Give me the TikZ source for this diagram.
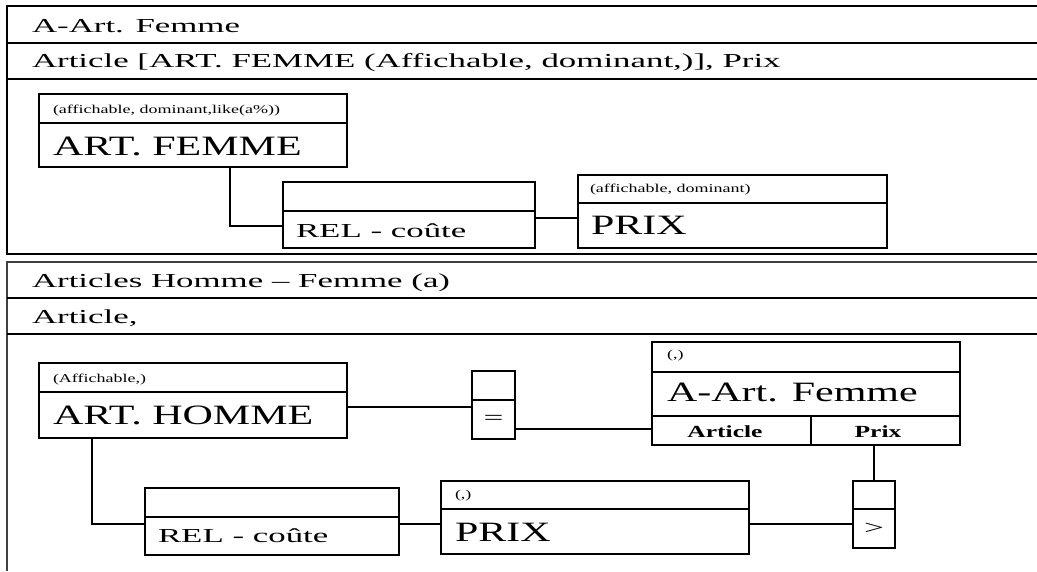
\documentclass[tikz,border=0pt]{standalone}
\usepackage{fontspec}
\setmainfont{Liberation Serif}
\newfontfamily\hdfont[FakeStretch=1.76]{Liberation Serif}
\newfontfamily\bgfont[FakeStretch=1.5]{Liberation Serif}
\begin{document}
\begin{tikzpicture}[x=1pt,y=-1pt,
  frame/.style={line width=1.3pt},
  box/.style={draw, rectangle, anchor=north west, inner sep=0pt, outer sep=0pt, line width=1.3pt},
  rule/.style={line width=1.2pt},
  link/.style={line width=1.2pt},
  lbl/.style={anchor=base west, inner sep=0pt, outer sep=0pt},
  hdtxt/.style={font=\hdfont\fontsize{19.8}{22}\selectfont},
  bgtxt/.style={font=\bgfont\fontsize{28}{30}\selectfont},
  smtxt/.style={font=\bgfont\fontsize{12}{14}\selectfont},
  celltxt/.style={font=\bgfont\bfseries\fontsize{17}{19}\selectfont, anchor=base, inner sep=0pt},
  optxt/.style={font=\hdfont\fontsize{20}{22}\selectfont, anchor=center, inner sep=0pt}
]
\useasboundingbox[fill=white] (0,0) rectangle (1037,571);

% ---------- upper panel ----------
\draw[frame] (1037,6) -- (7,6) -- (7,254) -- (1037,254);
\draw[frame] (7,43) -- (1037,43);
\draw[frame] (7,79) -- (1037,79);
\node[lbl, hdtxt] (t1) at (32,32) {A-Art. Femme};
\node[lbl, hdtxt] (t2) at (32,67) {Article [ART. FEMME (Affichable, dominant,)], Prix};

\node[box, minimum width=308pt, minimum height=73pt] (afemme) at (39,94) {};
\draw[rule] ([yshift=-29pt]afemme.north west) -- ([yshift=-29pt]afemme.north east);
\node[lbl, smtxt] (afemmeq) at (53,113) {(affichable, dominant,like(a\%))};
\node[lbl, bgtxt] (afemmen) at (53,155) {ART. FEMME};

\node[box, minimum width=252pt, minimum height=66pt] (rel1) at (283,182) {};
\draw[rule] ([yshift=-29pt]rel1.north west) -- ([yshift=-29pt]rel1.north east);
\node[lbl, hdtxt] (rel1n) at (296,237) {REL - coûte};

\node[box, minimum width=309pt, minimum height=73pt] (prix1) at (578,175) {};
\draw[rule] ([yshift=-28pt]prix1.north west) -- ([yshift=-28pt]prix1.north east);
\node[lbl, smtxt] (prix1q) at (590,192) {(affichable, dominant)};
\node[lbl, bgtxt] (prix1n) at (591,234) {PRIX};

\draw[link] ([xshift=191pt]afemme.south west) |- ([yshift=-44pt]rel1.north west);
\draw[link] ([yshift=-36pt]rel1.north east) -- ([yshift=-43pt]prix1.north west);

% ---------- lower panel ----------
\draw[frame, black!75] (1037,262) -- (7,262) -- (7,571);
\draw[frame] (7,298) -- (1037,298);
\draw[frame] (7,334) -- (1037,334);
\node[lbl, hdtxt] (t3) at (32,287) {Articles Homme \textendash{} Femme (a)};
\node[lbl, hdtxt] (t4) at (32,323) {Article,};

\node[box, minimum width=308pt, minimum height=75pt] (ahomme) at (39,363) {};
\draw[rule] ([yshift=-29pt]ahomme.north west) -- ([yshift=-29pt]ahomme.north east);
\node[lbl, smtxt] (ahommeq) at (53,382) {(Affichable,)};
\node[lbl, bgtxt] (ahommen) at (53,424) {ART. HOMME};

\node[box, minimum width=43pt, minimum height=68pt] (eq) at (472,371) {};
\draw[rule] ([yshift=-29pt]eq.north west) -- ([yshift=-29pt]eq.north east);
\node[optxt] (eqs) at (493.5,420) {=};

\node[box, minimum width=308pt, minimum height=103pt] (aaf) at (652,342) {};
\draw[rule] ([yshift=-30pt]aaf.north west) -- ([yshift=-30pt]aaf.north east);
\draw[rule] ([yshift=-74pt]aaf.north west) -- ([yshift=-74pt]aaf.north east);
\draw[rule] ([xshift=159pt,yshift=-74pt]aaf.north west) -- ([xshift=159pt]aaf.south west);
\node[lbl, smtxt] (aafq) at (667,358) {(,)};
\node[lbl, bgtxt] (aafn) at (667,401) {A-Art. Femme};
\node[celltxt] (aafa) at (725,437) {Article};
\node[celltxt] (aafp) at (878,437) {Prix};

\node[box, minimum width=254pt, minimum height=67pt] (rel2) at (145,488) {};
\draw[rule] ([yshift=-29pt]rel2.north west) -- ([yshift=-29pt]rel2.north east);
\node[lbl, hdtxt] (rel2n) at (158,542) {REL - coûte};

\node[box, minimum width=308pt, minimum height=73pt] (prix2) at (441,481) {};
\draw[rule] ([yshift=-28pt]prix2.north west) -- ([yshift=-28pt]prix2.north east);
\node[lbl, smtxt] (prix2q) at (455,498) {(,)};
\node[lbl, bgtxt] (prix2n) at (455,541) {PRIX};

\node[box, minimum width=42pt, minimum height=67pt] (gt) at (853,481) {};
\draw[rule] ([yshift=-28pt]gt.north west) -- ([yshift=-28pt]gt.north east);
\node[optxt] (gts) at (874,529) {>};

\draw[link] ([yshift=-44pt]ahomme.north east) -- ([yshift=-36pt]eq.north west);
\draw[link] ([yshift=-58pt]eq.north east) -- ([yshift=-87pt]aaf.north west);
\draw[link] ([xshift=53pt]ahomme.south west) |- ([yshift=-36pt]rel2.north west);
\draw[link] ([yshift=-36pt]rel2.north east) -- ([yshift=-43pt]prix2.north west);
\draw[link] ([yshift=-43pt]prix2.north east) -- ([yshift=-43pt]gt.north west);
\draw[link] (gt.north) -- (gt.north |- aaf.south);
\end{tikzpicture}
\end{document}
